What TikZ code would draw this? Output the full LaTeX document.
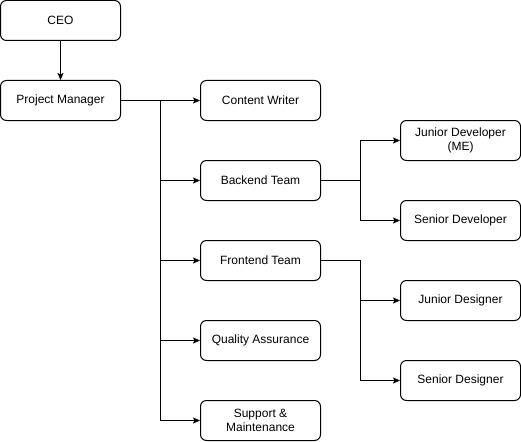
\documentclass[tikz,border=0pt]{standalone}
\usepackage{fontspec}
\setmainfont{Liberation Sans}
\usetikzlibrary{arrows.meta}
\begin{document}
\begin{tikzpicture}[x=1pt,y=-1pt,
  box/.style={draw=black,line width=1pt,rounded corners=6pt,minimum width=120pt,minimum height=40pt,inner sep=0pt,align=center,font=\fontsize{12}{14}\selectfont,fill=white},
  conn/.style={draw=black,line width=1pt},
  arr/.style={conn,-{Stealth[length=7pt,width=6pt,inset=1.5pt]}}]
\useasboundingbox (0,0) rectangle (521,441);
\fill[white] (0,0) rectangle (521,441);
\node[box] (ceo) at (60.5,20.5) {CEO};
\node[box] (pm) at (60.5,100.5) {Project Manager};
\node[box] (cw) at (260.5,100.5) {Content Writer};
\node[box] (bt) at (260.5,180.5) {Backend Team};
\node[box] (ft) at (260.5,260.5) {Frontend Team};
\node[box] (qa) at (260.5,340.5) {Quality Assurance};
\node[box] (sm) at (260.5,420.5) {Support \&\\Maintenance};
\node[box] (jd) at (460.5,140.5) {Junior Developer\\(ME)};
\node[box] (sd) at (460.5,220.5) {Senior Developer};
\node[box] (jds) at (460.5,300.5) {Junior Designer};
\node[box] (sds) at (460.5,380.5) {Senior Designer};
\draw[arr] (ceo) -- (pm);
\draw[arr] (pm.east) -- (cw.west);
\draw[arr] (pm.east) -| (160.5,180.5) -- (bt.west);
\draw[arr] (pm.east) -| (160.5,260.5) -- (ft.west);
\draw[arr] (pm.east) -| (160.5,340.5) -- (qa.west);
\draw[arr] (pm.east) -| (160.5,420.5) -- (sm.west);
\draw[arr] (bt.east) -| (360.5,140.5) -- (jd.west);
\draw[arr] (bt.east) -| (360.5,220.5) -- (sd.west);
\draw[arr] (ft.east) -| (360.5,300.5) -- (jds.west);
\draw[arr] (ft.east) -| (360.5,380.5) -- (sds.west);
\end{tikzpicture}
\end{document}
